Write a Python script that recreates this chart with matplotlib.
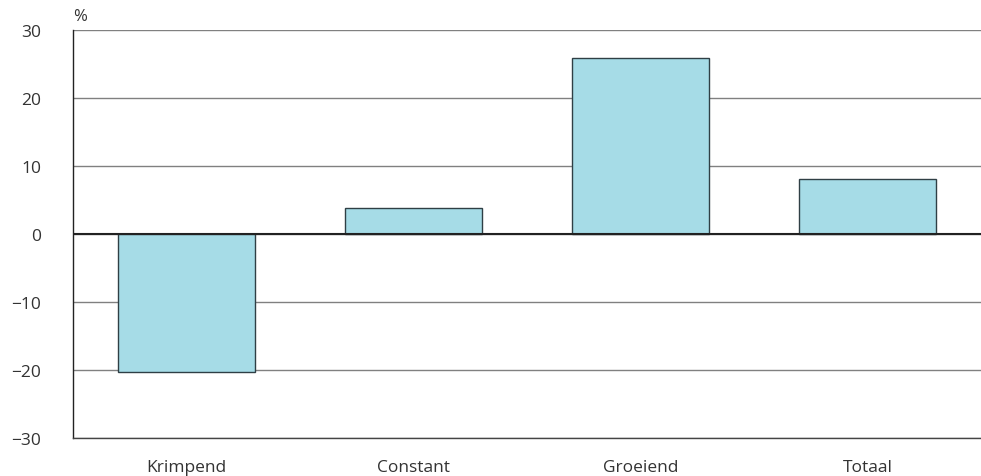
import matplotlib
matplotlib.use("Agg")
import matplotlib.pyplot as plt

categories = ["Krimpend", "Constant", "Groeiend", "Totaal"]
values = [-20.3, 3.8, 25.9, 8.1]
yticks = [-30, -20, -10, 0, 10, 20, 30]
ytick_labels = ["\u221230", "\u221220", "\u221210", "0", "10", "20", "30"]

plt.rcParams['font.family'] = ['Open Sans', 'DejaVu Sans']

fig = plt.figure(figsize=(9.81, 4.77), dpi=100)
ax = fig.add_axes([73/981, 1 - 439/477, 1 - 73/981, (439 - 31)/477])

x = list(range(len(categories)))
ax.bar(x, values, width=0.6, color="#a6dce7", edgecolor="#2f3f45", linewidth=1, zorder=3)

ax.set_xlim(-0.5, 3.5)
ax.set_ylim(-30, 30)
ax.set_yticks(yticks)
ax.set_yticklabels(ytick_labels)
ax.set_xticks(x)
ax.set_xticklabels(categories)
ax.tick_params(axis="both", length=0, labelsize=12.5, colors="#333333")
ax.tick_params(axis="y", pad=23)
ax.tick_params(axis="x", pad=15)
for lbl in ax.get_yticklabels():
    lbl.set_horizontalalignment("right")

ax.yaxis.grid(True, color="#808080", linewidth=1, zorder=0)
ax.axhline(0, color="#222222", linewidth=1.5, zorder=4)

for s in ["top", "right"]:
    ax.spines[s].set_visible(False)
ax.spines["left"].set_color("#222222")
ax.spines["left"].set_linewidth(1)
ax.spines["bottom"].set_color("#444444")
ax.spines["bottom"].set_linewidth(1)

ax.text(0.0, 1.015, "%", transform=ax.transAxes, fontsize=12, color="#333333",
        ha="left", va="bottom")

fig.savefig("out.png", dpi=100)
